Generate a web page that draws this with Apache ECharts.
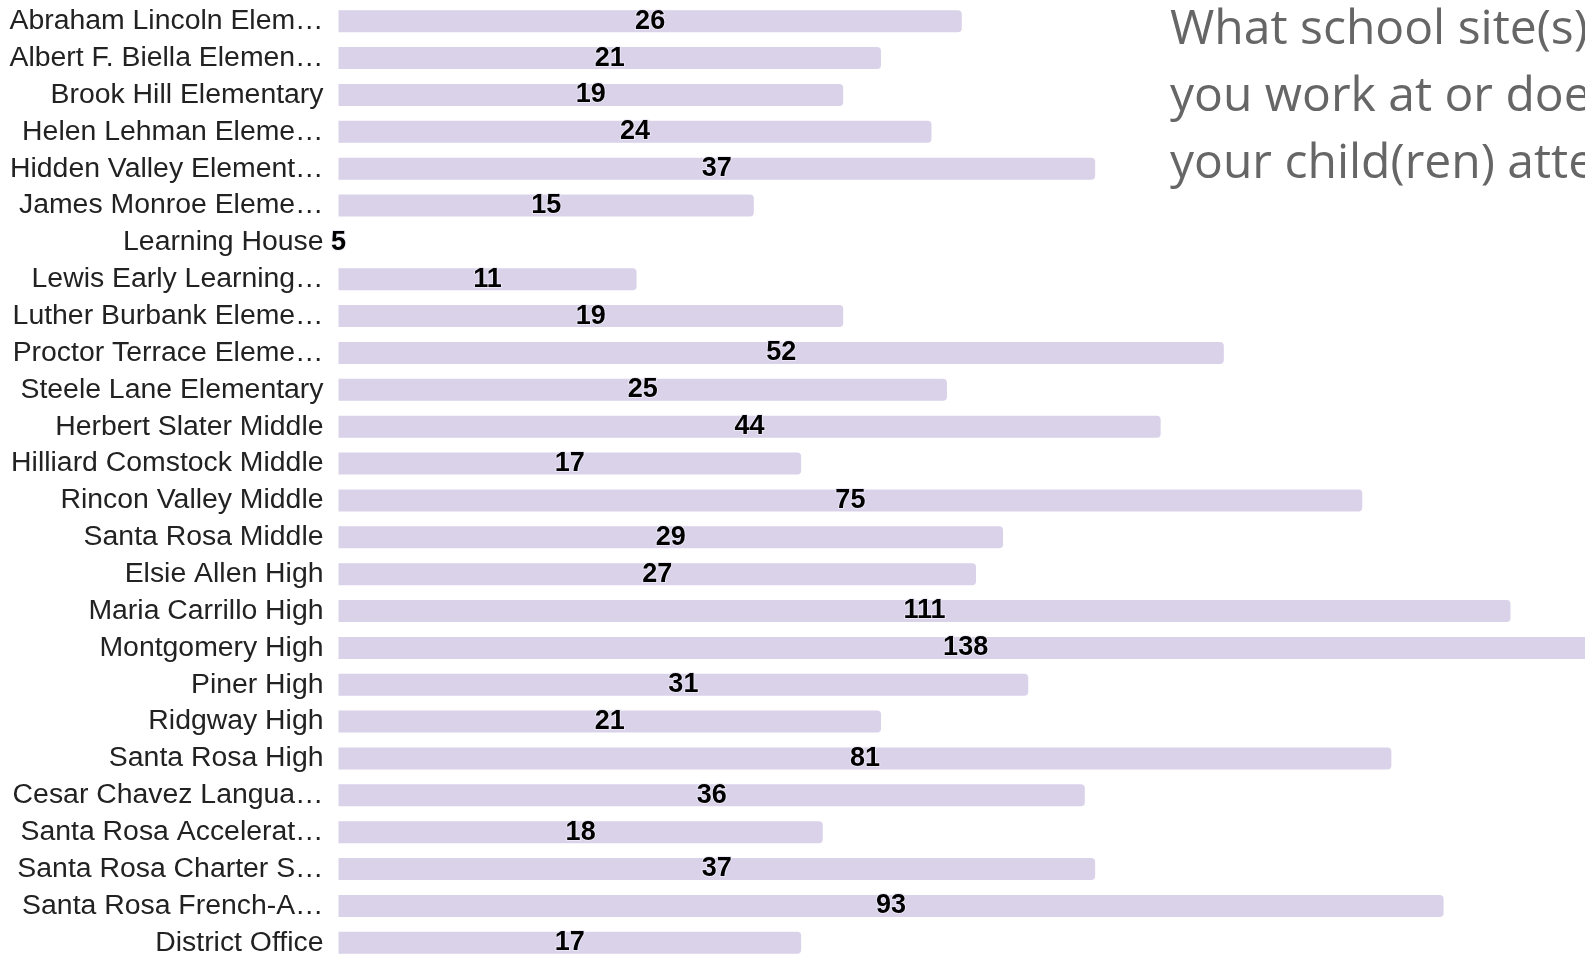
<!DOCTYPE html>
<html>
<head>
<meta charset="utf-8">
<script src="https://cdn.jsdelivr.net/npm/echarts@6/dist/echarts.min.js"></script>
<style>
html,body{margin:0;padding:0;background:#fff;overflow:hidden;width:1585px;height:955px;}
#chart{width:2400px;height:1000px;}
</style>
</head>
<body>
<div id="chart"></div>
<script>
const categories = [
  'Abraham Lincoln Elem…', 'Albert F. Biella Elemen…', 'Brook Hill Elementary',
  'Helen Lehman Eleme…', 'Hidden Valley Element…', 'James Monroe Eleme…',
  'Learning House', 'Lewis Early Learning…', 'Luther Burbank Eleme…',
  'Proctor Terrace Eleme…', 'Steele Lane Elementary', 'Herbert Slater Middle',
  'Hilliard Comstock Middle', 'Rincon Valley Middle', 'Santa Rosa Middle',
  'Elsie Allen High', 'Maria Carrillo High', 'Montgomery High', 'Piner High',
  'Ridgway High', 'Santa Rosa High', 'Cesar Chavez Langua…',
  'Santa Rosa Accelerat…', 'Santa Rosa Charter S…', 'Santa Rosa French-A…',
  'District Office'
];
const counts = [26, 21, 19, 24, 37, 15, 5, 11, 19, 52, 25, 44, 17, 75, 29, 27, 111, 138, 31, 21, 81, 36, 18, 37, 93, 17];
const titleText = 'What school site(s) do\nyou work at or does\nyour child(ren) attend?';
const axisMin = 5;
const axisMax = 1000;

const chart = echarts.init(document.getElementById('chart'), null, {renderer: 'canvas'});
chart.setOption({
  animation: false,
  backgroundColor: '#ffffff',
  title: {
    text: titleText,
    left: 1170,
    top: -3,
    padding: 0,
    textStyle: {
      fontFamily: 'Open Sans',
      fontWeight: 'normal',
      fontSize: 48,
      lineHeight: 67,
      color: '#666666'
    }
  },
  grid: {left: 338.5, top: 2.8, width: 2003, height: 958.4},
  xAxis: {
    type: 'log',
    min: axisMin,
    max: axisMax,
    startValue: axisMin,
    show: false,
    splitLine: {show: false}
  },
  yAxis: {
    type: 'category',
    data: categories,
    inverse: true,
    axisLine: {show: false},
    axisTick: {show: false},
    splitLine: {show: false},
    axisLabel: {
      margin: 15,
      fontFamily: 'Liberation Sans',
      fontSize: 28.4,
      color: '#222222'
    }
  },
  series: [{
    type: 'bar',
    data: counts,
    barWidth: 22,
    itemStyle: {color: '#d9d2e9', borderRadius: [0, 4, 4, 0]},
    label: {
      show: true,
      position: 'inside',
      fontFamily: 'Liberation Sans',
      fontWeight: 'bold',
      fontSize: 27,
      color: '#000000',
      textBorderColor: 'rgba(236,232,246,0.9)',
      textBorderWidth: 2
    }
  }]
});
</script>
</body>
</html>
